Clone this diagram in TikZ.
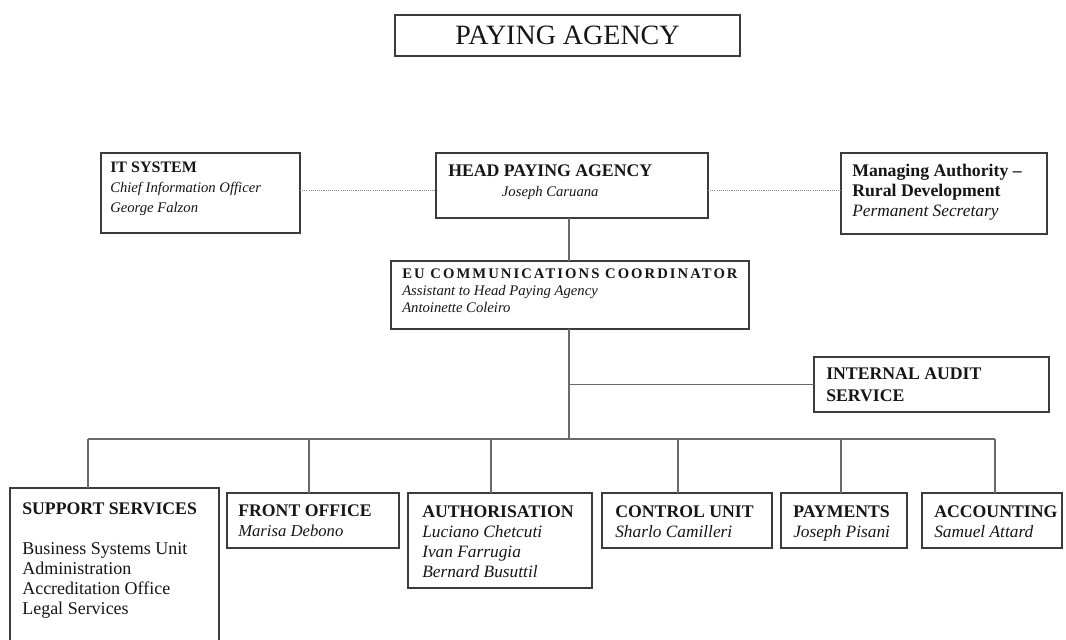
\documentclass[tikz,border=0pt]{standalone}
\usepackage{fontspec}
\setmainfont{Liberation Serif}
\definecolor{boxline}{HTML}{3C3C3C}
\definecolor{linkline}{HTML}{6A6A6A}
\definecolor{dotgray}{HTML}{8A8A8A}
\definecolor{ink}{HTML}{161616}
% font shortcuts for headings and names
\newcommand\hdfont[1]{\fontsize{#1}{15}\selectfont\bfseries}
\newcommand\nmfont[1]{\fontsize{#1}{15}\selectfont\itshape}
\newcommand\rmtext[1]{\fontsize{#1}{15}\selectfont\upshape\mdseries}
\begin{document}
\begin{tikzpicture}[x=0.75pt,y=-0.75pt,
  box/.style 2 args={draw=boxline, line width=1.1pt, fill=white,
    minimum width=#1*0.75pt, minimum height=#2*0.75pt,
    inner sep=0pt, outer sep=0pt, anchor=north west},
  txt/.style={anchor=north west, inner sep=0pt, align=left, text=ink,
    font=\fontsize{13}{15}\selectfont},
  link/.style={draw=linkline, line width=1.1pt},
  dotlink/.style={draw=dotgray, line width=0.7pt, dash pattern=on 0.8pt off 0.8pt}]
\useasboundingbox (0,0) rectangle (1066,639);
\clip (0,0) rectangle (1066,639);
\fill[white] (0,0) rectangle (1066,639);

% title
\node[box={345}{41}, text=ink, font=\fontsize{21}{24}\selectfont] (title) at (395,15) {PAYING AGENCY};

% top row
\node[box={199}{80}] (it) at (101,153) {};
\node[box={272}{65}] (head) at (436,153) {};
\node[box={206}{81}] (ma) at (841,153) {};

\node[txt] (itT) at (110,162) {{\hdfont{12}IT SYSTEM}\\{\nmfont{11}Chief Information Officer}\\{\nmfont{11}George Falzon}};
\node[txt, align=center] (headT) at (448,164) {{\hdfont{13.3}HEAD PAYING AGENCY}\\{\nmfont{11}Joseph Caruana}};
\node[txt] (maT) at (852,164) {{\hdfont{13.3}Managing Authority –}\\{\hdfont{13.3}Rural Development}\\{\nmfont{13}Permanent Secretary}};

% coordinator and audit
\node[box={358}{68}] (eu) at (391,261) {};
\node[txt, font=\fontsize{11}{12.75}\selectfont] (euT) at (402,269) {{\bfseries\addfontfeature{LetterSpace=14}EU COMMUNICATIONS COORDINATOR}\\{\itshape Assistant to Head Paying Agency}\\{\itshape Antoinette Coleiro}};

\node[box={235}{55}] (audit) at (814,357) {};
\node[txt, font=\fontsize{13.3}{16.5}\selectfont] (auditT) at (826,368) {{\bfseries INTERNAL AUDIT}\\{\bfseries SERVICE}};

% bottom row
\node[box={209}{220}] (sup) at (10,488) {};
\node[box={172}{55}] (front) at (227,493) {};
\node[box={184}{95}] (auth) at (408,493) {};
\node[box={170}{55}] (ctrl) at (602,493) {};
\node[box={126}{55}] (pay) at (781,493) {};
\node[box={140}{55}] (acc) at (922,493) {};

\node[txt] (supT) at (22,502) {{\hdfont{13.3}SUPPORT SERVICES}\\[15pt]{\rmtext{13.5}Business Systems Unit}\\{\rmtext{13.5}Administration}\\{\rmtext{13.5}Accreditation Office}\\{\rmtext{13.5}Legal Services}};
\node[txt] (frontT) at (238,504) {{\hdfont{13.3}FRONT OFFICE}\\{\nmfont{12.5}Marisa Debono}};
\node[txt] (authT) at (422,505) {{\hdfont{13.3}AUTHORISATION}\\{\nmfont{13}Luciano Chetcuti}\\{\nmfont{13}Ivan Farrugia}\\{\nmfont{13}Bernard Busuttil}};
\node[txt] (ctrlT) at (615,505) {{\hdfont{13.3}CONTROL UNIT}\\{\nmfont{13}Sharlo Camilleri}};
\node[txt] (payT) at (793,505) {{\hdfont{13.3}PAYMENTS}\\{\nmfont{13}Joseph Pisani}};
\node[txt] (accT) at (934,505) {{\hdfont{13.3}ACCOUNTING}\\{\nmfont{13}Samuel Attard}};

% routing points
\coordinate (dl) at (0,190);
\coordinate (stem) at (569,0);
\coordinate (b1) at (88,439);
\coordinate (b2) at (309,439);
\coordinate (b3) at (491,439);
\coordinate (b4) at (678,439);
\coordinate (b5) at (841,439);
\coordinate (b6) at (995,439);

% dotted advisory links
\draw[dotlink] (it.east |- dl) -- (head.west |- dl);
\draw[dotlink] (head.east |- dl) -- (ma.west |- dl);

% reporting lines
\draw[link] (head.south -| stem) -- (eu.north -| stem);
\draw[link] (eu.south -| stem) -- (stem |- b1);
\draw[link] (stem |- audit.west) -- (audit.west);
\draw[link] (b1) -- (b6);
\draw[link] (b1) -- (b1 |- sup.north);
\draw[link] (b2) -- (b2 |- front.north);
\draw[link] (b3) -- (b3 |- auth.north);
\draw[link] (b4) -- (b4 |- ctrl.north);
\draw[link] (b5) -- (b5 |- pay.north);
\draw[link] (b6) -- (b6 |- acc.north);
\end{tikzpicture}
\end{document}
